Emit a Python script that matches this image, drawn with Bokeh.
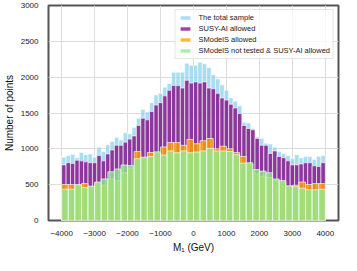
import numpy as np
from bokeh.plotting import figure
from bokeh.models import Range1d, FixedTicker, Legend, LegendItem
from bokeh.embed import file_html
from bokeh.resources import INLINE

# ---- data ----
x_min, x_max = -4000, 4000

# 60 bins (width ~133 GeV)
total_sample = [884, 906, 923, 876, 949, 919, 928, 884, 1023, 962,
                1058, 1101, 1158, 1123, 1223, 1210, 1296, 1427, 1548, 1514,
                1644, 1752, 1774, 1861, 1913, 2069, 2069, 2069, 2195, 2165,
                2165, 2208, 2186, 2134, 2034, 1978, 1895, 1817, 1709, 1665,
                1600, 1370, 1362, 1284, 1166, 1145, 1079, 1066, 1023, 962,
                936, 906, 862, 919, 871, 893, 893, 850, 897, 906]
susyai_allowed = [776, 806, 797, 841, 832, 819, 806, 806, 906, 832,
                  928, 984, 1049, 1049, 1093, 1136, 1180, 1327, 1427, 1405,
                  1520, 1610, 1644, 1739, 1817, 1882, 1882, 1848, 1956, 1917,
                  1934, 1917, 1934, 1848, 1839, 1774, 1709, 1680, 1622, 1570,
                  1492, 1327, 1284, 1266, 1145, 1049, 1049, 936, 971, 893,
                  876, 832, 776, 776, 789, 806, 806, 763, 754, 806]

# 40 bins (width 200 GeV)
smodels_allowed = [502, 502, 490, 515, 470, 520, 493, 580, 559, 667,
                   732, 962, 870, 949, 940, 1027, 1088, 1088, 1049, 1131,
                   1071, 1114, 1144, 1001, 1036, 1001, 949, 893, 790, 650,
                   620, 600, 560, 540, 472, 493, 537, 502, 515, 515]
not_tested_susyai = [437, 437, 502, 459, 480, 537, 580, 680, 719, 775,
                     767, 862, 884, 893, 958, 914, 971, 945, 971, 945,
                     955, 971, 1006, 971, 971, 962, 919, 800, 806, 710,
                     689, 667, 580, 559, 485, 472, 450, 428, 428, 437]

series_labels = ["The total sample", "SUSY-AI allowed", "SModelS allowed",
                 "SModelS not tested & SUSY-AI allowed"]

x_tick_values = [-4000, -3000, -2000, -1000, 0, 1000, 2000, 3000, 4000]
x_tick_labels = ["\u22124000", "\u22123000", "\u22122000", "\u22121000", "0",
                 "1000", "2000", "3000", "4000"]
y_tick_values = [0, 500, 1000, 1500, 2000, 2500, 3000]

FONT = "Liberation Sans"

p = figure(width=341, height=255, output_backend="svg", toolbar_location=None,
           x_range=Range1d(-4400, 4400), y_range=Range1d(0, 3000),
           min_border_left=36, min_border_right=3, min_border_top=5,
           min_border_bottom=25)

def hist(counts, color, alpha):
    e = np.linspace(x_min, x_max, len(counts) + 1)
    return p.quad(left=e[:-1], right=e[1:], bottom=0, top=counts,
                  fill_color=color, fill_alpha=alpha,
                  line_color="white", line_alpha=alpha, line_width=0.8)

r1 = hist(total_sample, "skyblue", 0.7)
r2 = hist(susyai_allowed, "purple", 0.75)
r3 = hist(smodels_allowed, "orange", 0.8)
r4 = hist(not_tested_susyai, "lightgreen", 0.8)

legend = Legend(items=[LegendItem(label=l, renderers=[r]) for l, r in
                       zip(series_labels, [r1, r2, r3, r4])],
                location="top_right",
                label_text_font=FONT, label_text_font_size="7.5px",
                label_text_color="#222222",
                glyph_width=13, glyph_height=5, label_height=8,
                label_standoff=7, spacing=2, padding=3, margin=4,
                border_line_color="#cccccc", border_line_width=1,
                background_fill_color="white", background_fill_alpha=0.8)
p.add_layout(legend)

p.xaxis.ticker = FixedTicker(ticks=x_tick_values)
p.xaxis.major_label_overrides = dict(zip(x_tick_values, x_tick_labels))
p.yaxis.ticker = FixedTicker(ticks=y_tick_values)

p.xaxis.axis_label = "M\u2081 (GeV)"
p.yaxis.axis_label = "Number of points"

for ax in (p.xaxis, p.yaxis):
    ax.axis_line_color = None
    ax.major_tick_line_color = None
    ax.minor_tick_line_color = None
    ax.major_label_text_font = FONT
    ax.major_label_text_font_size = "8px"
    ax.major_label_text_color = "#222222"
    ax.axis_label_text_font = FONT
    ax.axis_label_text_font_size = "10px"
    ax.axis_label_text_font_style = "normal"
    ax.axis_label_text_color = "#111111"
    ax.major_label_standoff = 4
    ax.axis_label_standoff = 3

p.grid.grid_line_color = "#dcdcdc"
p.grid.grid_line_width = 1
p.outline_line_color = "#555555"
p.outline_line_width = 2
p.background_fill_color = "white"

open("out.html", "w").write(file_html(p, INLINE))
